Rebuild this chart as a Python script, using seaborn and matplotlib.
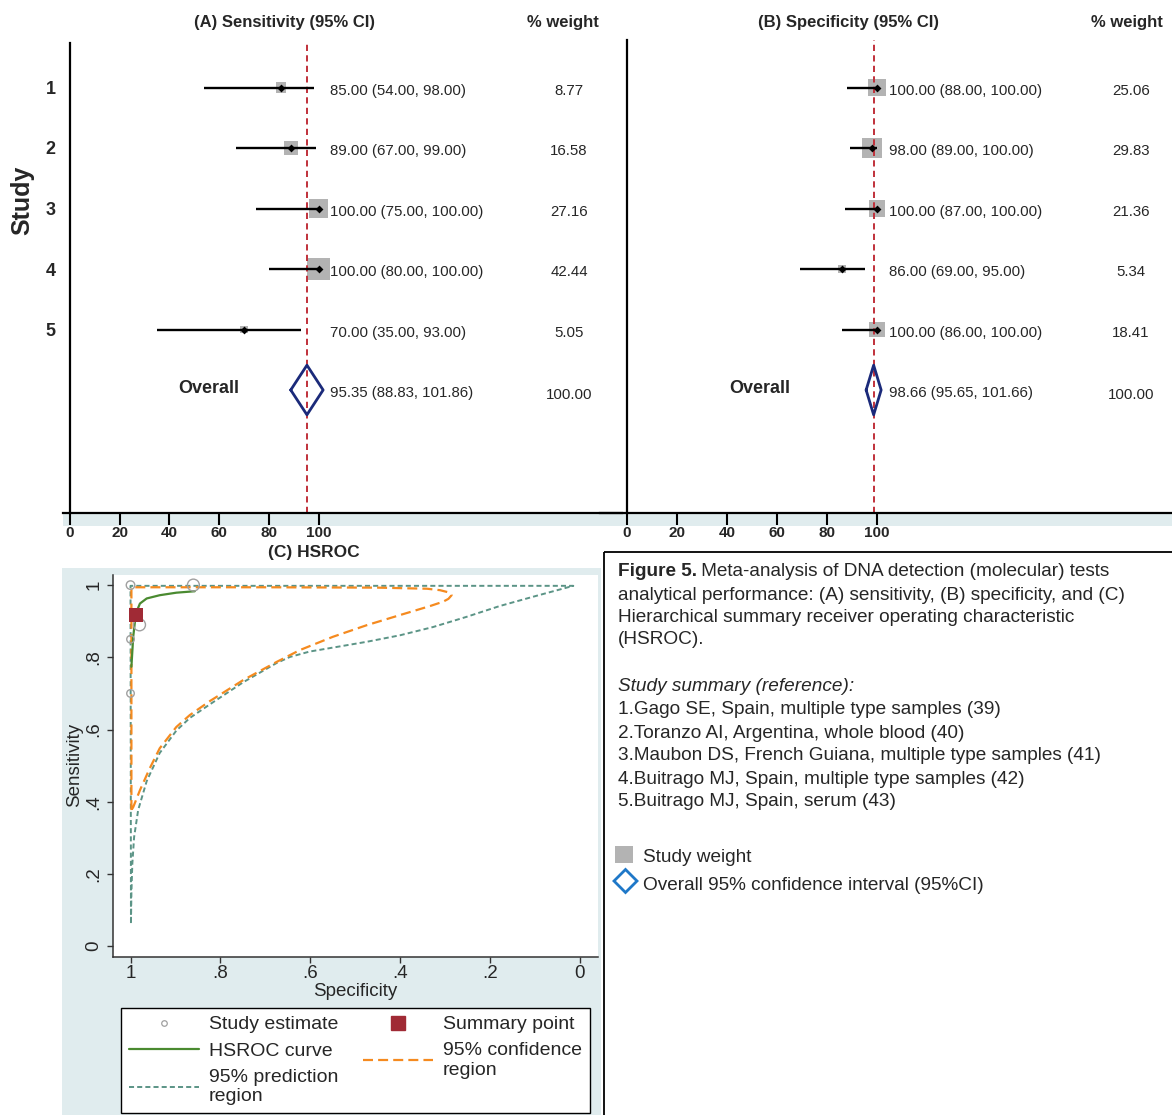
import numpy as np
import pandas as pd
import matplotlib
matplotlib.use("Agg")
import matplotlib.pyplot as plt
import seaborn as sns
from matplotlib.lines import Line2D
from matplotlib.patches import Rectangle, Polygon

# ---------------- data ----------------
study_labels = ["1", "2", "3", "4", "5"]

sens_est = [85.00, 89.00, 100.00, 100.00, 70.00]
sens_lo = [54.00, 67.00, 75.00, 80.00, 35.00]
sens_hi = [98.00, 99.00, 100.00, 100.00, 93.00]
sens_weight = [8.77, 16.58, 27.16, 42.44, 5.05]
sens_overall = [95.35, 88.83, 101.86]          # estimate, lower, upper
sens_overall_weight = 100.00

spec_est = [100.00, 98.00, 100.00, 86.00, 100.00]
spec_lo = [88.00, 89.00, 87.00, 69.00, 86.00]
spec_hi = [100.00, 100.00, 100.00, 95.00, 100.00]
spec_weight = [25.06, 29.83, 21.36, 5.34, 18.41]
spec_overall = [98.66, 95.65, 101.66]
spec_overall_weight = 100.00

forest_ticks = [0, 20, 40, 60, 80, 100]

# HSROC panel
roc_circle_weight = [0.40, 1.00, 0.51, 1.00, 0.40]
summary_spec = 0.988
summary_sens = 0.918

hsroc_spec = [0.998, 0.994, 0.988, 0.979, 0.964, 0.935, 0.898, 0.857]
hsroc_sens = [0.774, 0.857, 0.922, 0.949, 0.963, 0.972, 0.979, 0.983]

conf_spec = [0.998, 0.998, 0.700, 0.450, 0.340, 0.311, 0.292, 0.285, 0.292, 0.304, 0.333, 0.400,
             0.474, 0.549, 0.623, 0.675, 0.749, 0.823, 0.868, 0.898, 0.935, 0.957, 0.979, 0.994,
             0.998]
conf_sens = [0.377, 0.994, 0.994, 0.993, 0.990, 0.986, 0.980, 0.972, 0.962, 0.954, 0.942, 0.917,
             0.889, 0.857, 0.820, 0.787, 0.737, 0.679, 0.640, 0.607, 0.548, 0.493, 0.432, 0.385,
             0.377]

pred_spec = [0.999, 1.000, 0.500, 0.014, 0.103, 0.178, 0.252, 0.326, 0.400, 0.474, 0.549, 0.601,
             0.645, 0.675, 0.749, 0.823, 0.868, 0.898, 0.935, 0.964, 0.983, 0.992, 0.996, 0.998,
             0.999]
pred_sens = [0.064, 0.998, 0.998, 0.998, 0.968, 0.942, 0.912, 0.884, 0.861, 0.843, 0.827, 0.816,
             0.801, 0.784, 0.731, 0.670, 0.632, 0.597, 0.535, 0.457, 0.377, 0.302, 0.227, 0.147,
             0.064]

roc_ticks = [0, 0.2, 0.4, 0.6, 0.8, 1.0]
roc_tick_labels = ["0", ".2", ".4", ".6", ".8", "1"]

caption_head = "Figure 5."
caption_rest = " Meta-analysis of DNA detection (molecular) tests"
caption_lines = ["analytical performance: (A) sensitivity, (B) specificity, and (C)",
                 "Hierarchical summary receiver operating characteristic",
                 "(HSROC)."]
summary_title = "Study summary (reference):"
study_refs = ["1.Gago SE, Spain, multiple type samples (39)",
              "2.Toranzo AI, Argentina, whole blood (40)",
              "3.Maubon DS, French Guiana, multiple type samples (41)",
              "4.Buitrago MJ, Spain, multiple type samples (42)",
              "5.Buitrago MJ, Spain, serum (43)"]

# ---------------- style ----------------
sns.set_theme(style="white")
plt.rcParams["font.family"] = ["Liberation Sans", "DejaVu Sans"]

RED = "#c0303a"
NAVY = "#1b2a7a"
BOXGRAY = "#b3b3b3"
BAND = "#e0ecee"
GREEN = "#4a8a30"
ORANGE = "#f58a1f"
TEAL = "#5b9486"
MAROON = "#a02a35"
CIRCLE = "#a0a0a0"
BLUE = "#1f78c8"

W, H = 1172, 1115
fig = plt.figure(figsize=(W / 100, H / 100), dpi=100)


def rect(l, t, r, b):
    return [l / W, 1 - b / H, (r - l) / W, (b - t) / H]


# overlay (decorations, caption) in pixel coordinates
ov = fig.add_axes([0, 0, 1, 1], zorder=-5)
ov.set_xlim(0, W)
ov.set_ylim(H, 0)
ov.axis("off")
ov.add_patch(Rectangle((63, 514), W - 63, 12, color=BAND, lw=0))
ov.add_patch(Rectangle((62, 568), 539, 560, color=BAND, lw=0))

ROW0 = 87.5
ROW_STEP = 60.5


def forest_panel(box, zero_px, ppu, est, lo, hi, weight, overall, overall_weight,
                 text_px, weight_px, overall_px, row_labels=None):
    l, t, r, b = box
    ax = fig.add_axes(rect(l, t, r, b))
    ax.set_facecolor("none")
    n = len(est)
    df = pd.DataFrame({"row": np.arange(1, n + 1), "est": est, "lo": lo, "hi": hi, "w": weight})
    o_est, o_lo, o_hi = overall
    o_row = n + 1
    ax.axvline(o_est, color=RED, lw=1.4, dashes=(3.2, 2.2), zorder=2)
    sns.scatterplot(data=df, x="est", y="row", size="w", sizes=(0, 640), size_norm=(0, 100),
                    marker="s", color=BOXGRAY, linewidth=0, legend=False, ax=ax, zorder=1)
    ax.hlines(df["row"], df["lo"], df["hi"], color="black", lw=1.7, zorder=3)
    sns.scatterplot(data=df, x="est", y="row", marker="D", color="black", s=16,
                    linewidth=0, legend=False, ax=ax, zorder=4)
    dh = 0.41
    ax.plot([o_lo, o_est, o_hi, o_est, o_lo], [o_row, o_row - dh, o_row, o_row + dh, o_row],
            color=NAVY, lw=2.0, zorder=4)
    tx = (text_px - zero_px) / ppu
    wx = (weight_px - zero_px) / ppu
    for rr, e, a, c, w in zip(df["row"], est, lo, hi, weight):
        ax.text(tx, rr + 0.05, f"{e:.2f} ({a:.2f}, {c:.2f})", fontsize=10.8, va="center", ha="left")
        ax.text(wx, rr + 0.05, f"{w:.2f}", fontsize=10.8, va="center", ha="center")
    ax.text(tx, o_row + 0.05, f"{o_est:.2f} ({o_lo:.2f}, {o_hi:.2f})", fontsize=10.8,
            va="center", ha="left")
    ax.text(wx, o_row + 0.08, f"{overall_weight:.2f}", fontsize=10.8, va="center", ha="center")
    ax.text((overall_px - zero_px) / ppu, o_row - 0.03, "Overall", fontsize=13,
            fontweight="bold", va="center", ha="center")

    ax.set_xlim((l - zero_px) / ppu, (r - zero_px) / ppu)
    ax.set_ylim(1 + (b - ROW0) / ROW_STEP, 1 - (ROW0 - t) / ROW_STEP)
    ax.set_xlabel("")
    ax.set_ylabel("")
    for s in ["top", "right"]:
        ax.spines[s].set_visible(False)
    ax.spines["left"].set_position(("data", 0))
    for s in ["left", "bottom"]:
        ax.spines[s].set_color("black")
        ax.spines[s].set_linewidth(1.6)
    ax.set_xticks(forest_ticks)
    ax.set_xticklabels([str(v) for v in forest_ticks], fontsize=11, fontweight="bold")
    ax.tick_params(axis="x", direction="out", length=8.5, width=1.5, color="black", pad=1.0,
                   bottom=True)
    if row_labels is not None:
        ax.set_yticks(df["row"])
        ax.set_yticklabels(row_labels, fontsize=13, fontweight="bold")
        ax.tick_params(axis="y", length=0, pad=10.5, left=True)
    else:
        ax.set_yticks([])
    return ax


axA = forest_panel((63, 43, 622, 513), 70.0, 2.485, sens_est, sens_lo, sens_hi, sens_weight,
                   sens_overall, sens_overall_weight, 330, 569, 209, row_labels=study_labels)
axB = forest_panel((600, 40, 1172, 513), 627.0, 2.50, spec_est, spec_lo, spec_hi, spec_weight,
                   spec_overall, spec_overall_weight, 889, 1131, 760, row_labels=None)

fig.text(22 / W, 1 - 200 / H, "Study", rotation=90, fontsize=18, fontweight="bold",
         ha="center", va="center")
fig.text(285 / W, 1 - 22 / H, "(A) Sensitivity (95% CI)", fontsize=12, fontweight="bold",
         ha="center", va="center")
fig.text(563 / W, 1 - 22 / H, "% weight", fontsize=12, fontweight="bold", ha="center", va="center")
fig.text(848 / W, 1 - 22 / H, "(B) Specificity (95% CI)", fontsize=12, fontweight="bold",
         ha="center", va="center")
fig.text(1127 / W, 1 - 22 / H, "% weight", fontsize=12, fontweight="bold", ha="center", va="center")
fig.text(314 / W, 1 - 552 / H, "(C) HSROC", fontsize=12.5, fontweight="bold", ha="center", va="center")

# ---------------- HSROC panel ----------------
axc = fig.add_axes(rect(113, 575, 598, 957))
axc.set_facecolor("white")
sns.lineplot(x=pred_spec, y=pred_sens, sort=False, estimator=None, color=TEAL, lw=1.4, ax=axc)
axc.get_lines()[-1].set_dashes([2.6, 1.6])
sns.lineplot(x=conf_spec, y=conf_sens, sort=False, estimator=None, color=ORANGE, lw=1.6, ax=axc)
axc.get_lines()[-1].set_dashes([4.5, 2.3])
sns.lineplot(x=hsroc_spec, y=hsroc_sens, sort=False, estimator=None, color=GREEN, lw=1.6, ax=axc)

roc_df = pd.DataFrame({"spec": np.array(spec_est) / 100, "sens": np.array(sens_est) / 100,
                       "w": roc_circle_weight})
sns.scatterplot(data=roc_df, x="spec", y="sens", size="w", sizes=(0, 74), size_norm=(0, 1),
                marker="o", legend=False, ax=axc, zorder=5)
circ = axc.collections[-1]
circ.set_facecolor("none")
circ.set_edgecolor(CIRCLE)
circ.set_linewidth(1.0)
sns.scatterplot(x=[summary_spec], y=[summary_sens], marker="s", s=100, color=MAROON,
                linewidth=0, legend=False, ax=axc, zorder=6)

axc.set_xlim(1.039, -0.041)
axc.set_ylim(-0.030, 1.028)
for s in ["top", "right"]:
    axc.spines[s].set_visible(False)
for s in ["left", "bottom"]:
    axc.spines[s].set_color("#333333")
    axc.spines[s].set_linewidth(1.1)
axc.set_xticks(roc_ticks)
axc.set_xticklabels(roc_tick_labels, fontsize=13.5)
axc.set_yticks(roc_ticks)
axc.set_yticklabels(roc_tick_labels, fontsize=13.5, rotation=90, va="center")
axc.tick_params(axis="both", direction="out", length=4.5, width=1.0, color="#333333",
                bottom=True, left=True)
axc.tick_params(axis="x", pad=1.5)
axc.tick_params(axis="y", pad=3)
axc.set_xlabel("Specificity", fontsize=13.5)
axc.set_ylabel("Sensitivity", fontsize=13.5)
axc.xaxis.set_label_coords(0.499, -0.068)
axc.yaxis.label.set(rotation_mode="default", va="center", ha="center")
axc.yaxis.set_label_coords(-0.079, 0.503)

handles = [
    Line2D([], [], ls="", marker="o", mfc="none", mec=CIRCLE, ms=4, mew=0.9),
    Line2D([], [], color=GREEN, lw=1.6),
    Line2D([], [], color=TEAL, lw=1.4, dashes=[2.6, 1.6]),
    Line2D([], [], ls="", marker="s", color=MAROON, ms=10.5),
    Line2D([], [], color=ORANGE, lw=1.6, dashes=[4.5, 2.3]),
]
labels = ["Study estimate", "HSROC curve", "95% prediction\nregion", "Summary point",
          "95% confidence\nregion"]
leg = fig.legend(handles, labels, loc="upper left", bbox_to_anchor=(121.4 / W, 1 - 1008.3 / H),
                 ncol=2, fontsize=14, frameon=True, fancybox=False, edgecolor="black",
                 framealpha=1, facecolor="white", borderpad=0.39, handlelength=3.6,
                 handletextpad=0.5, columnspacing=1.3, labelspacing=0.45, borderaxespad=0)
leg.get_frame().set_linewidth(1.0)

# ---------------- caption box ----------------
ov.add_patch(Rectangle((604, 551.5), 700, 700, fill=False, lw=1.3, ec="black"))
CAP = 13.7
t1 = ov.text(617.5, 580, caption_head, fontsize=CAP, fontweight="bold", ha="left", va="bottom")
ov.annotate(caption_rest, xy=(1, 0), xycoords=t1, fontsize=CAP, ha="left", va="bottom")
ys = [595, 618, 640]
for y, line in zip(ys, caption_lines):
    ov.text(617.5, y, line, fontsize=CAP, ha="left", va="center")
ov.text(617.5, 686.7, summary_title, fontsize=CAP, style="italic", ha="left", va="center")
for i, line in enumerate(study_refs):
    ov.text(617.5, 710 + 23 * i, line, fontsize=CAP, ha="left", va="center")
ov.add_patch(Rectangle((615, 846), 18, 17, color=BOXGRAY, lw=0))
ov.text(643, 857, "Study weight", fontsize=CAP, ha="left", va="center")
ov.add_patch(Polygon([(614, 881), (625.5, 869.5), (637, 881), (625.5, 892.5)], closed=True,
                     fill=False, ec=BLUE, lw=2.0))
ov.text(643, 885.5, "Overall 95% confidence interval (95%CI)", fontsize=CAP, ha="left", va="center")

fig.savefig("out.png", dpi=100)
